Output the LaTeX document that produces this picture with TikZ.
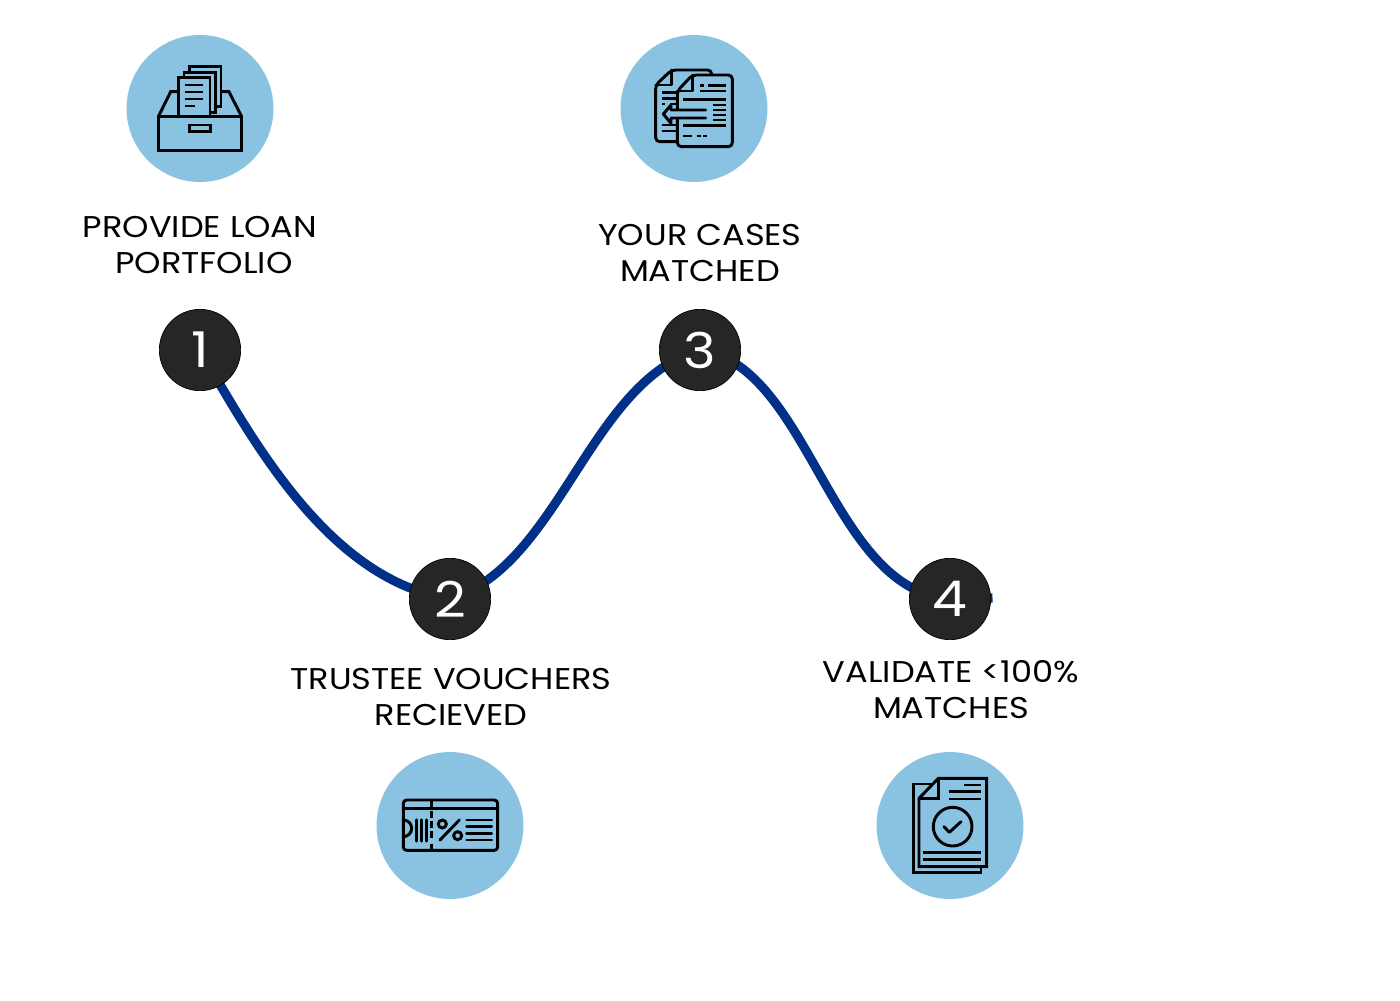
\documentclass[tikz,border=0pt]{standalone}
\usepackage{fontspec}
\setmainfont[FakeStretch=1.12]{Poppins}
\usetikzlibrary{backgrounds}
\definecolor{skyc}{HTML}{8AC2E2}
\definecolor{darkc}{HTML}{262626}
\definecolor{wavec}{HTML}{003087}
\tikzset{
  x=0.75pt,y=-0.75pt,
  disc/.style={circle,fill=skyc,draw=none,minimum size=110.2pt,inner sep=0pt},
  numdisc/.style={circle,fill=darkc,draw=black,line width=0.5pt,minimum size=61pt,inner sep=0pt,text=white,font=\fontsize{37}{37}\selectfont},
  label/.style={align=center,inner sep=0pt,text=black,font=\fontsize{22.5}{27}\selectfont},
  wave/.style={draw=wavec,line width=6.8pt},
  ink/.style={draw=black,line width=2.2pt,fill=none,line join=miter},
  inkr/.style={draw=black,line width=2.2pt,fill=none,line join=round,line cap=round},
}
\begin{document}
\begin{tikzpicture}
\useasboundingbox (0,0) rectangle (1400,1000);
\node[disc] (d1) at (200,108.5) {};
\node[disc] (d3) at (694,108.5) {};
\node[disc] (d2) at (450,825.5) {};
\node[disc] (d4) at (950,825.5) {};
\node[numdisc] (n1) at (200,350) {\hspace*{1pt}1};
\node[numdisc] (n2) at (450,599) {2};
\node[numdisc] (n3) at (700,350) {3};
\node[numdisc] (n4) at (950,599) {4};
\coordinate (tail) at (992.5,598);
\begin{pgfonlayer}{background}
\fill[white] (0,0) rectangle (1400,1000);
\draw[wave] (n1.center) .. controls (255,445) and (330,580) .. (n2.center)
  .. controls (560,565) and (590,380) .. (n3.center)
  .. controls (810,366) and (830,590) .. (n4.center)
  -- (tail);
\end{pgfonlayer}
\node[label] (t1) at (200,245) {PROVIDE LOAN\\\hspace*{6pt}PORTFOLIO};
\node[label] (t3) at (700,253) {YOUR CASES\\MATCHED};
\node[label] (t2) at (451,697) {TRUSTEE VOUCHERS\\RECIEVED};
\node[label] (t4) at (951,690) {VALIDATE <100\%\\MATCHES};
% icon 1: drawer
\begin{scope}[shift={(120,30)},scale=1/3]
\draw[ink] (115,260) rectangle (365,362);
\draw[ink] (208,285) rectangle (272,305);
\draw[ink] (115,260) -- (152,185) -- (175,185);
\draw[ink] (302,185) -- (327,185) -- (365,260);
\draw[ink] (175,260) -- (175,143) -- (270,143) -- (270,260);
\draw[ink] (192,143) -- (192,127) -- (287,127) -- (287,247) -- (270,247);
\draw[ink] (208,127) -- (208,110) -- (303,110) -- (303,230) -- (287,230);
\draw[ink] (195,165) -- (250,165) (195,186) -- (250,186) (195,207) -- (250,207) (195,228) -- (225,228);
\end{scope}
% icon 2: documents
\begin{scope}[shift={(615,30)},scale=1/3]
\draw[inkr,rounded corners=3pt] (185,335) -- (122,335) -- (122,165) -- (170,120) -- (290,120) -- (290,135);
\draw[inkr] (170,120) -- (170,165) -- (122,165);
\draw[inkr,fill=skyc,rounded corners=3pt] (187,183) -- (232,135) -- (352,135) -- (352,350) -- (187,350) -- cycle;
\draw[inkr] (232,135) -- (232,183) -- (187,183);
\draw[ink] (142,187) -- (185,187) (142,205) -- (185,205) (142,222) -- (150,222) (165,222) -- (185,222) (142,285) -- (185,285) (142,303) -- (185,303);
\draw[ink] (205,208) -- (332,208);
\draw[inkr,fill=skyc] (272,240) -- (168,240) -- (168,225) -- (145,252) -- (168,280) -- (168,264) -- (272,264);
\draw[ink] (255,167) -- (266,167) (280,167) -- (332,167) (255,183) -- (332,183) (295,225) -- (332,225) (295,240) -- (332,240) (295,255) -- (332,255) (295,270) -- (332,270) (205,287) -- (332,287) (205,318) -- (230,318) (245,318) -- (258,318) (265,318) -- (276,318);
\end{scope}
% icon 3: voucher
\begin{scope}[shift={(370,745)},scale=1/3]
\draw[inkr,rounded corners=2.5pt] (100,225) -- (100,165) -- (383,165) -- (383,316) -- (100,316) -- (100,275);
\draw[inkr] (100,275) arc[start angle=90,end angle=-90,radius=25] -- cycle;
\draw[ink] (100,190) -- (383,190);
\draw[ink] (185,165) -- (185,185) (185,198) -- (185,218) (185,228) -- (185,248) (185,258) -- (185,278) (185,296) -- (185,316);
\draw[inkr,line width=2.6pt] (139,225) -- (139,288) (154,225) -- (154,288) (169,225) -- (169,288);
\draw[ink] (217,237) circle[radius=12] (263,272) circle[radius=12];
\draw[inkr] (268,225) -- (210,285);
\draw[inkr] (290,225) -- (365,225) (290,245) -- (365,245) (290,265) -- (365,265) (290,285) -- (365,285);
\end{scope}
% icon 4: validated document
\begin{scope}[shift={(870,745)},scale=1/3]
\draw[ink] (190,117) -- (130,117) -- (130,382) -- (333,382) -- (333,365);
\draw[ink] (205,100) -- (350,100) -- (350,365) -- (147,365) -- (147,160) -- cycle;
\draw[ink] (205,100) -- (205,160) -- (147,160);
\draw[ink] (283,120) -- (333,120) (238,140) -- (333,140) (238,162) -- (333,162);
\draw[ink] (248,245) circle[radius=58];
\draw[inkr] (222,245) -- (238,262) -- (273,230);
\draw[ink] (158,323) -- (333,323) (158,343) -- (333,343);
\end{scope}
\end{tikzpicture}
\end{document}
